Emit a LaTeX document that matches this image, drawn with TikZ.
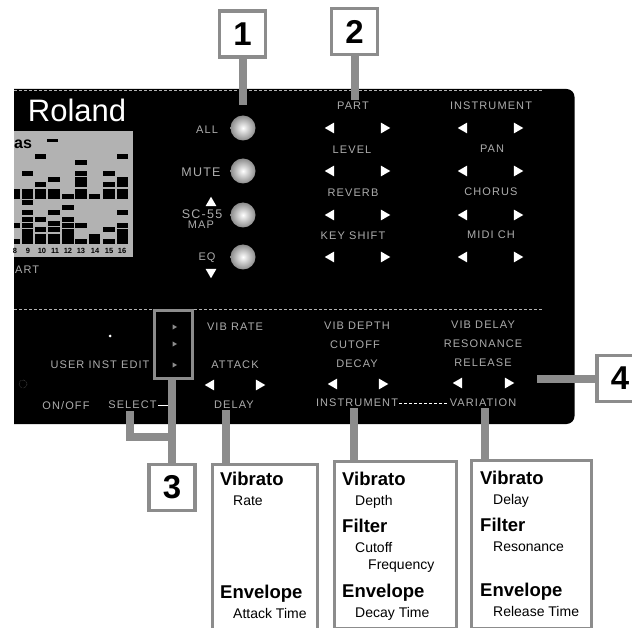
\documentclass[tikz,border=0pt]{standalone}
\usepackage{fontspec}
\setmainfont{Liberation Sans}
\newfontfamily\panelfont[LetterSpace=10]{Liberation Sans}
\usetikzlibrary{arrows.meta,positioning,shapes}
\definecolor{dither}{gray}{0.55}
\tikzset{
  numbox/.style={draw=dither,line width=3.5,fill=white,minimum size=46,inner sep=0,font=\bfseries\fontsize{33}{33}\selectfont},
  lead/.style={draw=dither,line width=8},
  infobox/.style={draw=dither,line width=3,fill=white,inner sep=0},
  frame/.style={draw=dither,line width=3,inner sep=0},
  plab/.style={text=black!32,inner sep=1,font=\panelfont\fontsize{11}{11}\selectfont},
  btn/.style={circle,draw=none,minimum size=25,inner sep=0,shading=radial,inner color=white,outer color=black!45},
  tri/.style={regular polygon,regular polygon sides=3,fill=white,minimum size=12.5,inner sep=0},
  tril/.style={tri,shape border rotate=90},
  trir/.style={tri,shape border rotate=-90},
  triu/.style={tri,shape border rotate=0},
  trid/.style={tri,shape border rotate=180},
  mk/.style={tri,shape border rotate=-90,fill=black!45,minimum size=6},
  hd/.style={anchor=base west,inner sep=0,font=\bfseries\fontsize{18.5}{18.5}\selectfont},
  sb/.style={anchor=base west,inner sep=0,font=\fontsize{14}{14}\selectfont},
  lcdnum/.style={inner sep=0,font=\bfseries\fontsize{7.5}{7.5}\selectfont}
}
\begin{document}
\begin{tikzpicture}[x=1pt,y=-1pt]
\useasboundingbox (0,0) rectangle (632,628);
\clip (0,0) rectangle (632,628);
% panel
\fill[black] (14,89) [rounded corners=8] -- (574.5,89) -- (574.5,424) [sharp corners] -- (14,424) -- cycle;
\draw[black!30,densely dashed,thin] (14,90.5) -- (543,90.5);
\draw[black!30,densely dashed,thin] (14,309) -- (543,309);
% display
\fill[black!30] (14,131) rectangle (133,257);
\foreach \x/\w/\rows in {14/6/{192,197,226,242},
  22/11/{174,192,197,203,213,220,226,232,237,242},
  35/11/{157,185,192,197,220,230,237,242},
  48/12/{180,192,197,213,224,230,237,242},
  62/12/{197,208,220,226,232,237,242},
  75/12/{163,174,180,185,192,197,226,242},
  89/11/{197,237,242},
  103/12/{174,185,192,197,230,242},
  117/11/{157,180,185,192,197,213,226,232,237,242}}
  \foreach \r in \rows \fill[black] (\x,\r-2.5) rectangle (\x+\w,\r+2.5);
\fill[black] (47,139) rectangle (58,142);
\node[anchor=west,inner sep=0,font=\bfseries\fontsize{16}{16}\selectfont] (lcdas) at (14,144) {as};
\node[lcdnum] (d8) at (15,251) {8};
\node[lcdnum] (d9) at (28,251) {9};
\node[lcdnum] (d10) at (42,251) {10};
\node[lcdnum] (d11) at (55,251) {11};
\node[lcdnum] (d12) at (68,251) {12};
\node[lcdnum] (d13) at (81,251) {13};
\node[lcdnum] (d14) at (95,251) {14};
\node[lcdnum] (d15) at (109,251) {15};
\node[lcdnum] (d16) at (122,251) {16};
\node[plab,anchor=west] (lbart) at (14,270) {ART};
\node[text=white,inner sep=0,font=\fontsize{31}{31}\selectfont] (logo) at (77,110) {Roland};
% buttons
\node[btn] (ball) at (243,128) {};
\node[btn] (bmute) at (243,171) {};
\node[btn] (bsc) at (243,215) {};
\node[btn] (beq) at (243,257) {};
\node[plab] (lball) at (207,130) {ALL};
\node[plab,font=\panelfont\fontsize{12.5}{12.5}\selectfont] (lbmute) at (201,172) {MUTE};
\node[plab,font=\panelfont\fontsize{12.5}{12.5}\selectfont] (lbsc) at (202,214) {SC-55};
\node[plab] (lbmap) at (201,225) {MAP};
\node[plab] (lbeq) at (207,258) {EQ};
\node[triu] (tup) at (211,203) {};
\node[trid] (tdn) at (211,272) {};
% upper labels
\node[plab] (lbpart) at (353,106) {PART};
\node[plab] (lbins) at (491,106) {INSTRUMENT};
\node[plab] (lblev) at (352,150) {LEVEL};
\node[plab] (lbpan) at (492,149) {PAN};
\node[plab] (lbrev) at (353,193) {REVERB};
\node[plab] (lbcho) at (491,192) {CHORUS};
\node[plab] (lbkey) at (353,236) {KEY SHIFT};
\node[plab] (lbmid) at (491,235) {MIDI CH};
\foreach \y in {128,171,215,257} {
  \node[tril] (ta\y) at (331,\y) {};
  \node[trir] (tb\y) at (384,\y) {};
  \node[tril] (tc\y) at (464,\y) {};
  \node[trir] (td\y) at (517,\y) {};
}
% lower labels
\node[plab] (lbuser) at (100,365) {USER INST EDIT};
\node[plab] (lbonoff) at (66,406) {ON/OFF};
\node[plab] (lbselect) at (132.5,405) {SELECT};
\node[circle,fill=white,minimum size=3,inner sep=0] (ledu) at (110,336) {};
\node[circle,draw=black!45,densely dotted,minimum size=8,inner sep=0] (jack) at (23,384) {};
\node[plab] (lbvib) at (235,327) {VIB RATE};
\node[plab] (lbatk) at (235,365) {ATTACK};
\node[plab] (lbdel) at (234,405) {DELAY};
\node[plab] (lbdep) at (357,326) {VIB DEPTH};
\node[plab] (lbcut) at (355,345) {CUTOFF};
\node[plab] (lbdec) at (357,364) {DECAY};
\node[plab] (lbinst) at (357,403) {INSTRUMENT};
\node[plab] (lbvdl) at (483,325) {VIB DELAY};
\node[plab] (lbres) at (483,344) {RESONANCE};
\node[plab] (lbrel) at (483,363) {RELEASE};
\node[plab] (lbvar) at (483,403) {VARIATION};
\node[tril] (te) at (211,385) {};
\node[trir] (tf) at (259,385) {};
\node[tril] (tg) at (334,384) {};
\node[trir] (th) at (382,384) {};
\node[tril] (ti) at (459,383) {};
\node[trir] (tj) at (508,383) {};
\node[mk] (mk1) at (174,327) {};
\node[mk] (mk2) at (174,344) {};
\node[mk] (mk3) at (174,365) {};
\draw[white,thin,densely dashed] (lbinst) -- (lbvar);
\draw[white,thick] (lbselect) -- (172,405);
% number boxes and leads
\node[frame,minimum width=38,minimum height=68] (sel) at (173.5,344.5) {};
\node[numbox] (n1) at (242.5,34) {1};
\node[numbox] (n2) at (354.5,31.5) {2};
\node[numbox] (n3) at (172,487.5) {3};
\node[numbox] (n4) at (620,378.5) {4};
\coordinate (c1) at (242.5,105);
\coordinate (c2) at (354.5,100);
\coordinate (c3) at (172,437);
\coordinate (c4) at (130,411);
\coordinate (c5) at (537,378.5);
\draw[lead] (n1) -- (c1);
\draw[lead] (n2) -- (c2);
\draw[lead] (n3) -- (n3 |- sel.south);
\draw[lead] (c4) |- (c3);
\draw[lead] (n4) -- (c5);
% boxes
\node[infobox,minimum width=105,minimum height=180,anchor=north west] (boxa) at (211,463) {};
\node[infobox,minimum width=122,minimum height=167,anchor=north west] (boxb) at (333,460) {};
\node[infobox,minimum width=120,minimum height=168,anchor=north west] (boxc) at (470,459) {};
\draw[lead] ([xshift=-8]lbdel.south) -- ([xshift=-8]lbdel.south |- boxa.north);
\draw[lead] ([xshift=-3]lbinst.south) -- ([xshift=-3]lbinst.south |- boxb.north);
\draw[lead] ([xshift=2]lbvar.south) -- ([xshift=2]lbvar.south |- boxc.north);
\node[hd] (a1) at (220,485) {Vibrato};
\node[sb] (a2) at (233,505) {Rate};
\node[hd] (a3) at (220,598) {Envelope};
\node[sb] (a4) at (233,618) {Attack Time};
\node[hd] (b1) at (342,485) {Vibrato};
\node[sb] (b2) at (355,505) {Depth};
\node[hd] (b3) at (342,532) {Filter};
\node[sb] (b4) at (355,552) {Cutoff};
\node[sb] (b5) at (368,569) {Frequency};
\node[hd] (b6) at (342,597) {Envelope};
\node[sb] (b7) at (355,617) {Decay Time};
\node[hd] (e1) at (480,484) {Vibrato};
\node[sb] (e2) at (493,504) {Delay};
\node[hd] (e3) at (480,531) {Filter};
\node[sb] (e4) at (493,551) {Resonance};
\node[hd] (e5) at (480,596) {Envelope};
\node[sb] (e6) at (493,616) {Release Time};
\end{tikzpicture}
\end{document}
